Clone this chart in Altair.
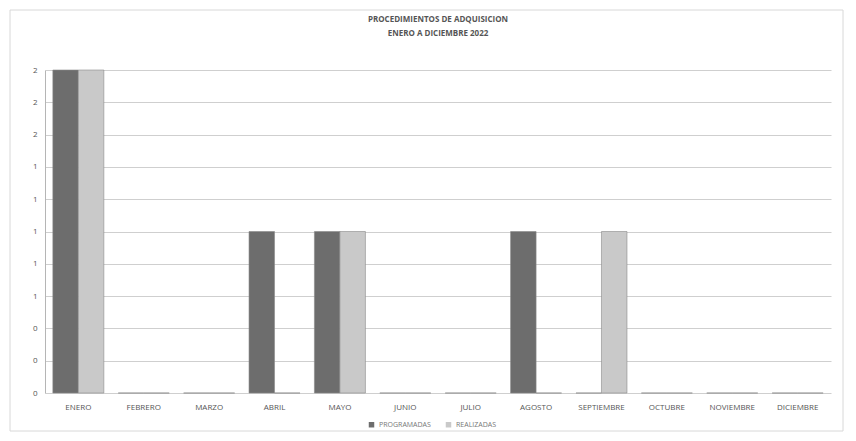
import altair as alt
import pandas as pd

meses = ["ENERO", "FEBRERO", "MARZO", "ABRIL", "MAYO", "JUNIO", "JULIO",
         "AGOSTO", "SEPTIEMBRE", "OCTUBRE", "NOVIEMBRE", "DICIEMBRE"]
programadas = [2, 0, 0, 1, 1, 0, 0, 1, 0, 0, 0, 0]
realizadas = [2, 0, 0, 0, 1, 0, 0, 0, 1, 0, 0, 0]
series = ["PROGRAMADAS", "REALIZADAS"]
colores = ["#6d6d6d", "#c9c9c9"]
y_ticks = [0, 0.2, 0.4, 0.6, 0.8, 1.0, 1.2, 1.4, 1.6, 1.8, 2.0]

rows = []
for m, p, r in zip(meses, programadas, realizadas):
    rows.append({"mes": m, "serie": series[0], "valor": p})
    rows.append({"mes": m, "serie": series[1], "valor": r})
df = pd.DataFrame(rows)

W, H = 786, 323
PL, PT, PR, PB = 37, 62, 17, 40
FONT = "Open Sans"

frame = alt.Chart(pd.DataFrame({"a": [0]})).mark_rect(
    fill=None, stroke="#d8d8d8", strokeWidth=1
).encode(
    x=alt.value(-35), x2=alt.value(W + 12),
    y=alt.value(-60), y2=alt.value(H + 38)
)

bars = alt.Chart(df).mark_bar(
    stroke="#8a8a8a", strokeWidth=0.6
).encode(
    x=alt.X("mes:N", sort=meses, title=None,
            scale=alt.Scale(paddingInner=0.22, paddingOuter=0.12),
            axis=alt.Axis(labelAngle=0, labelFontSize=8, labelColor="#555555",
                          labelFont=FONT, ticks=False, domain=False,
                          labelPadding=10)),
    xOffset=alt.XOffset("serie:N", sort=series),
    y=alt.Y("valor:Q", title=None,
            scale=alt.Scale(domain=[0, 2], nice=False),
            axis=alt.Axis(values=y_ticks, format=".0f", labelFontSize=8,
                          labelColor="#555555", labelFont=FONT, ticks=False,
                          domain=True, domainColor="#b5b5b5",
                          gridColor="#cfcfcf", gridWidth=1, labelPadding=8)),
    color=alt.Color("serie:N", sort=series, title=None,
                    scale=alt.Scale(domain=series, range=colores),
                    legend=alt.Legend(orient="none", direction="horizontal",
                                      legendX=323, legendY=351,
                                      symbolType="square", symbolSize=30,
                                      labelFontSize=7, labelColor="#777777",
                                      labelFont=FONT, columnPadding=14,
                                      symbolStrokeWidth=0)),
)

chart = alt.layer(frame, bars).properties(
    width=W, height=H,
    title=alt.TitleParams(
        text=["PROCEDIMIENTOS DE ADQUISICION", "ENERO A DICIEMBRE 2022"],
        fontSize=8, font=FONT, color="#555555", fontWeight="bold",
        anchor="middle", offset=-28, lineHeight=14
    ),
    padding={"left": PL, "top": PT, "right": PR, "bottom": PB},
    autosize=alt.AutoSizeParams(type="none"),
    background="#ffffff"
).configure_view(stroke=None)

chart.save("out.html", embed_options={"renderer": "svg", "actions": False})
